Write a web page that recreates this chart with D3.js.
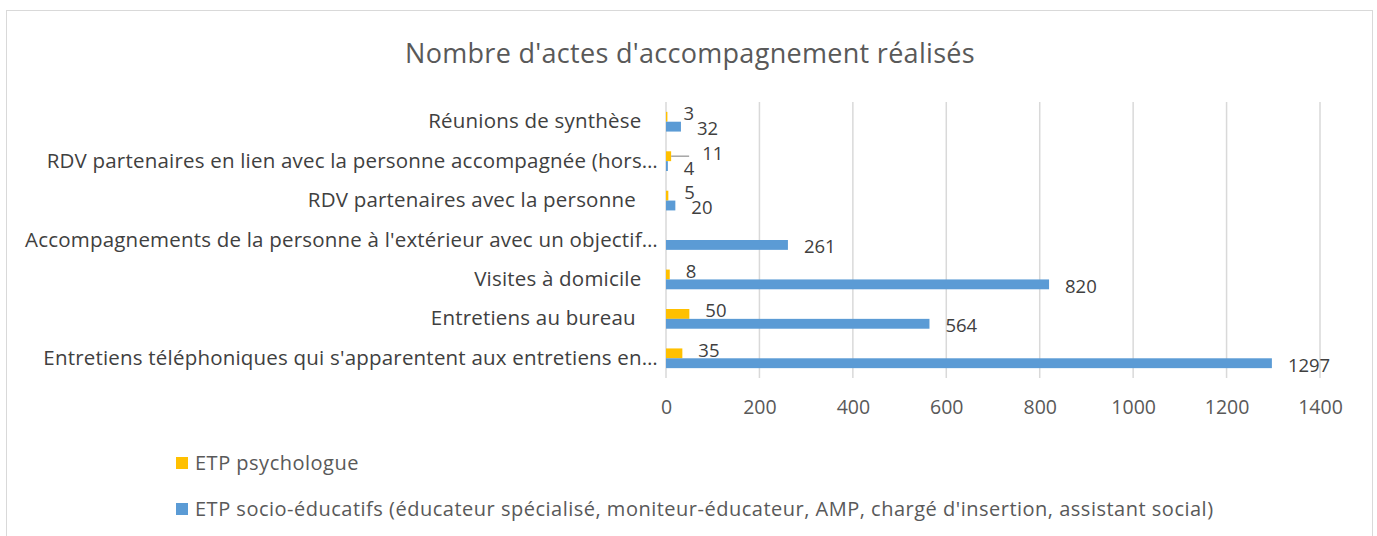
<!DOCTYPE html>
<html>
<head>
<meta charset="utf-8">
<script src="https://cdn.jsdelivr.net/npm/d3@7"></script>
<style>
  body { margin: 0; background: #fff; }
  svg { display: block; font-family: "Open Sans", sans-serif; }
  .cat text { white-space: pre; }
</style>
</head>
<body>
<div id="chart"></div>
<script>
// data (bottom category first, as in the chart)
// some labels carry trailing spaces in the source workbook
const categories = [
  "Entretiens téléphoniques qui s'apparentent aux entretiens en…",
  "Entretiens au bureau    ",
  "Visites à domicile   ",
  "Accompagnements de la personne à l'extérieur avec un objectif…",
  "RDV partenaires avec la personne    ",
  "RDV partenaires en lien avec la personne accompagnée (hors…",
  "Réunions de synthèse   "
];
const seriesNames = [
  "ETP psychologue",
  "ETP socio-éducatifs (éducateur spécialisé, moniteur-éducateur, AMP, chargé d'insertion, assistant social)"
];
const psychologue = [35, 50, 8, null, 5, 11, 3];
const socioEducatifs = [1297, 564, 820, 261, 20, 4, 32];
const xTicks = [0, 200, 400, 600, 800, 1000, 1200, 1400];
const colors = ["#FFC000", "#5B9BD5"];

const W = 1377, H = 536;
const svg = d3.select("#chart").append("svg")
  .attr("width", W).attr("height", H);

// chart border
svg.append("rect")
  .attr("x", 6.5).attr("y", 10.5)
  .attr("width", 1366).attr("height", 540)
  .attr("fill", "#fff").attr("stroke", "#D9D9D9");

// title
svg.append("text")
  .attr("x", 690).attr("y", 52)
  .attr("text-anchor", "middle").attr("dominant-baseline", "central")
  .attr("font-size", 27).attr("letter-spacing", 0.3).attr("fill", "#595959")
  .text("Nombre d'actes d'accompagnement réalisés");

const x = d3.scaleLinear().domain([0, 1400]).range([666, 1320]);
// top category drawn first
const y = d3.scaleBand().domain(categories.slice().reverse()).range([102, 378]).padding(0);
const bw = y.bandwidth();
const ySeries = d3.scaleBand().domain([0, 1]).range([bw / 4, bw * 3 / 4]);

// gridlines
svg.append("g").selectAll("line")
  .data(xTicks)
  .join("line")
    .attr("x1", d => x(d)).attr("x2", d => x(d))
    .attr("y1", 102).attr("y2", 378)
    .attr("stroke", "#D9D9D9").attr("stroke-width", 1.5);

// tick labels
const xAxis = svg.append("g")
  .attr("transform", "translate(0,378)")
  .call(d3.axisBottom(x).tickValues(xTicks).tickFormat(d3.format("d")).tickSize(0).tickPadding(22));
xAxis.select(".domain").remove();
xAxis.selectAll("text")
  .attr("font-family", "Open Sans, sans-serif")
  .attr("font-size", 19.5).attr("fill", "#595959");

// category labels
const yAxis = svg.append("g")
  .attr("class", "cat")
  .attr("transform", "translate(666,0)")
  .call(d3.axisLeft(y).tickSize(0).tickPadding(8));
yAxis.select(".domain").remove();
yAxis.selectAll("text")
  .attr("font-family", "Open Sans, sans-serif")
  .attr("font-size", 20.5).attr("letter-spacing", 0.2).attr("fill", "#404040");

// bars
const rows = [];
categories.forEach((c, i) => {
  [psychologue[i], socioEducatifs[i]].forEach((v, s) => {
    if (v != null) rows.push({cat: c, s: s, v: v, i: i});
  });
});

svg.append("g").selectAll("rect")
  .data(rows)
  .join("rect")
    .attr("x", x(0))
    .attr("y", d => y(d.cat) + ySeries(d.s))
    .attr("width", d => x(d.v) - x(0))
    .attr("height", ySeries.bandwidth())
    .attr("fill", d => colors[d.s]);

// the "11" label was dragged away in the original, with a leader line
const moved = d => d.s === 0 && d.i === 5;

svg.append("g").selectAll("line")
  .data(rows.filter(moved))
  .join("line")
    .attr("x1", d => x(d.v)).attr("x2", d => x(d.v) + 18)
    .attr("y1", d => y(d.cat) + ySeries(d.s) + ySeries.bandwidth() / 2)
    .attr("y2", d => y(d.cat) + ySeries(d.s) + ySeries.bandwidth() / 2)
    .attr("stroke", "#A6A6A6").attr("stroke-width", 1.5);

svg.append("g").selectAll("text")
  .data(rows)
  .join("text")
    .attr("x", d => x(d.v) + (moved(d) ? 31 : 16))
    .attr("y", d => y(d.cat) + ySeries(d.s) + ySeries.bandwidth() / 2 + (d.s === 0 ? -3 : 2))
    .attr("dy", "0.35em")
    .attr("font-size", 18.5).attr("fill", "#404040")
    .text(d => d.v);

// legend
const legend = svg.append("g").selectAll("g")
  .data(seriesNames)
  .join("g")
    .attr("transform", (d, i) => `translate(176,${463 + i * 46})`);
legend.append("rect")
  .attr("x", 0).attr("y", -6).attr("width", 12).attr("height", 12)
  .attr("fill", (d, i) => colors[i]);
legend.append("text")
  .attr("x", 19).attr("y", 0).attr("dy", "0.35em")
  .attr("font-size", 20).attr("letter-spacing", 0.5).attr("fill", "#595959")
  .text(d => d);
</script>
</body>
</html>
